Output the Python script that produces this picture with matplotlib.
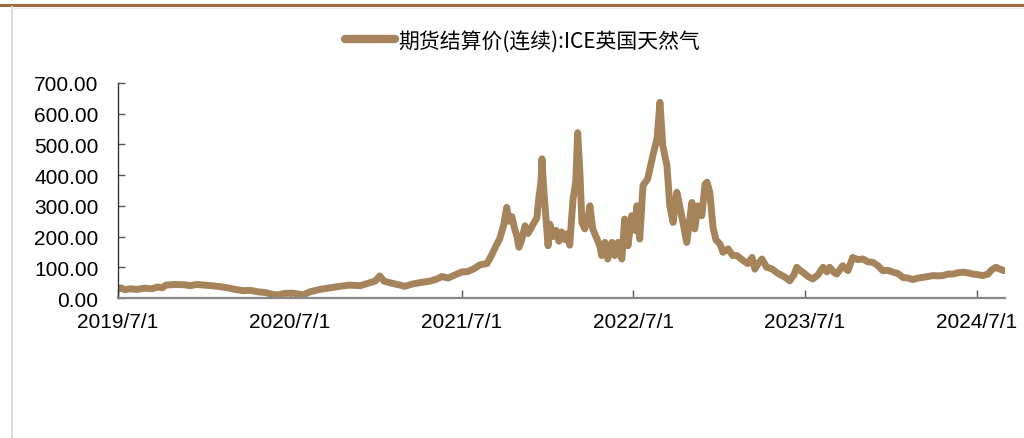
import matplotlib
matplotlib.use("Agg")
import matplotlib.pyplot as plt
from matplotlib.lines import Line2D
import pandas as pd

# ICE UK natural gas, continuous settlement price
dates = [
    "2019-07-01", "2019-07-07", "2019-07-16", "2019-07-27", "2019-08-10", "2019-08-27",
    "2019-09-11", "2019-09-24", "2019-10-03", "2019-10-11", "2019-10-30", "2019-11-21",
    "2019-12-01", "2019-12-16", "2020-01-02", "2020-01-17", "2020-02-03", "2020-02-20",
    "2020-03-06", "2020-03-23", "2020-04-07", "2020-04-24", "2020-05-09", "2020-05-24",
    "2020-06-05", "2020-06-20", "2020-07-05", "2020-07-18", "2020-07-29", "2020-08-12",
    "2020-09-03", "2020-09-24", "2020-10-15", "2020-11-05", "2020-11-27", "2020-12-14",
    "2020-12-29", "2021-01-08", "2021-01-17", "2021-02-03", "2021-02-20", "2021-03-02",
    "2021-03-17", "2021-04-03", "2021-04-25", "2021-05-10", "2021-05-20", "2021-06-02",
    "2021-06-17", "2021-07-02", "2021-07-14", "2021-07-27", "2021-08-09", "2021-08-24",
    "2021-09-03", "2021-09-14", "2021-09-20", "2021-09-29", "2021-10-05", "2021-10-10",
    "2021-10-16", "2021-10-22", "2021-10-27", "2021-10-31", "2021-11-06", "2021-11-13",
    "2021-11-19", "2021-11-25", "2021-12-02", "2021-12-08", "2021-12-12", "2021-12-17",
    "2021-12-19", "2021-12-23", "2021-12-27", "2022-01-01", "2022-01-05", "2022-01-11",
    "2022-01-18", "2022-01-24", "2022-01-30", "2022-02-06", "2022-02-12", "2022-02-16",
    "2022-02-23", "2022-03-01", "2022-03-05", "2022-03-10", "2022-03-14", "2022-03-20",
    "2022-03-27", "2022-03-31", "2022-04-06", "2022-04-15", "2022-04-21", "2022-04-25",
    "2022-05-02", "2022-05-08", "2022-05-17", "2022-05-23", "2022-05-30", "2022-06-07",
    "2022-06-13", "2022-06-20", "2022-06-28", "2022-07-05", "2022-07-09", "2022-07-15",
    "2022-07-22", "2022-08-01", "2022-08-12", "2022-08-21", "2022-08-27", "2022-09-02",
    "2022-09-11", "2022-09-17", "2022-09-24", "2022-10-02", "2022-10-08", "2022-10-15",
    "2022-10-23", "2022-11-03", "2022-11-09", "2022-11-16", "2022-11-24", "2022-12-01",
    "2022-12-05", "2022-12-11", "2022-12-18", "2022-12-24", "2023-01-02", "2023-01-08",
    "2023-01-19", "2023-01-29", "2023-02-07", "2023-02-20", "2023-03-02", "2023-03-11",
    "2023-03-17", "2023-03-23", "2023-04-01", "2023-04-11", "2023-04-22", "2023-05-05",
    "2023-05-20", "2023-05-30", "2023-06-08", "2023-06-14", "2023-06-21", "2023-06-27",
    "2023-07-08", "2023-07-18", "2023-07-29", "2023-08-09", "2023-08-17", "2023-08-23",
    "2023-09-01", "2023-09-07", "2023-09-20", "2023-10-01", "2023-10-11", "2023-10-22",
    "2023-11-02", "2023-11-12", "2023-11-23", "2023-12-04", "2023-12-14", "2023-12-25",
    "2024-01-05", "2024-01-15", "2024-01-26", "2024-02-06", "2024-02-16", "2024-02-27",
    "2024-03-08", "2024-03-19", "2024-03-30", "2024-04-09", "2024-04-20", "2024-05-01",
    "2024-05-11", "2024-05-22", "2024-06-02", "2024-06-12", "2024-06-23", "2024-07-03",
    "2024-07-14", "2024-07-25", "2024-08-02", "2024-08-11", "2024-08-19", "2024-08-28",
]
prices = [
    28, 33, 27, 30, 28, 32,
    30, 36, 33, 42, 44, 43,
    40, 44, 42, 40, 37, 33,
    28, 24, 25, 20, 18, 12,
    10, 15, 16, 13, 10, 20,
    28, 33, 38, 42, 40, 48,
    55, 72, 55, 48, 42, 38,
    45, 50, 55, 62, 70, 65,
    75, 85, 86, 95, 108, 112,
    140, 175, 192, 240, 295, 250,
    265, 225, 200, 165, 190, 235,
    210, 225, 245, 260, 320, 380,
    453, 350, 268, 170, 240, 200,
    220, 185, 215, 190, 210, 172,
    320, 380, 538, 400, 246, 225,
    260, 300, 225, 192, 170, 138,
    181, 127, 181, 138, 181, 127,
    257, 170, 268, 220, 300, 192,
    366, 388, 464, 520, 637, 496,
    430, 300, 246, 344, 300, 246,
    181, 311, 225, 300, 268, 370,
    377, 344, 230, 190, 175, 149,
    160, 138, 138, 122, 112, 132,
    94, 110, 127, 100, 95, 80,
    68, 56, 75, 100, 90, 84,
    70, 62, 75, 100, 85, 100,
    84, 78, 105, 89, 132, 125,
    127, 118, 116, 105, 89, 90,
    84, 80, 67, 65, 60, 65,
    67, 70, 73, 72, 73, 78,
    78, 82, 84, 82, 78, 76,
    73, 78, 92, 100, 94, 89,
]
series_name = "期货结算价(连续):ICE英国天然气"
tick_years = [2019, 2020, 2021, 2022, 2023, 2024]

plt.rcParams['font.family'] = ['Liberation Sans', 'DejaVu Sans']
line_color = "#a6845b"

df = pd.DataFrame({"date": pd.to_datetime(dates), "price": prices})

fig = plt.figure(figsize=(10.24, 4.39), dpi=100)
ax = fig.add_axes([0.1152, 0.3189, 0.8662, 0.4898])

ax.plot(df["date"], df["price"], color=line_color, linewidth=5.0,
        solid_joinstyle="round", solid_capstyle="round", label=series_name)

ax.set_xlim(pd.Timestamp("2019-07-01"), pd.Timestamp("2024-08-30"))
ax.set_ylim(0, 700)
ax.set_yticks(range(0, 701, 100))
ax.set_yticklabels([f"{v:.2f}" for v in range(0, 701, 100)])
ticks = [pd.Timestamp(f"{y}-07-01") for y in tick_years]
ax.set_xticks(ticks)
ax.set_xticklabels([f"{y}/7/1" for y in tick_years])

for side in ["top", "right"]:
    ax.spines[side].set_visible(False)
ax.spines["left"].set_color("#333333")
ax.spines["left"].set_linewidth(1.0)
ax.spines["bottom"].set_color("#888888")
ax.spines["bottom"].set_linewidth(1.6)
ax.tick_params(axis="y", direction="in", length=5, width=1, color="#555555",
               labelsize=15, pad=14)
ax.tick_params(axis="x", direction="in", length=6, width=1, color="#555555",
               labelsize=15, pad=10)

handle = Line2D([], [], color=line_color, linewidth=6, solid_capstyle="round")
fig.legend([handle], [series_name], loc="center", bbox_to_anchor=(0.51, 0.905),
           frameon=False, handlelength=2.4, handletextpad=0.15,
           prop={"family": ["Noto Sans CJK SC", "DejaVu Sans"], "size": 15})

# page decorations: brown rule at top, grey frame on the left
fig.add_artist(Line2D([0, 1], [1 - 6 / 439, 1 - 6 / 439], color="#9c6b3e",
                      linewidth=2.2, transform=fig.transFigure))
fig.add_artist(Line2D([12 / 1024, 12 / 1024], [0, 1 - 8 / 439], color="#dcdcdc",
                      linewidth=1.6, transform=fig.transFigure))
fig.add_artist(Line2D([12 / 1024, 1], [1 - 8.5 / 439, 1 - 8.5 / 439], color="#ececec",
                      linewidth=0.8, transform=fig.transFigure))

fig.savefig("out.png", dpi=100)
